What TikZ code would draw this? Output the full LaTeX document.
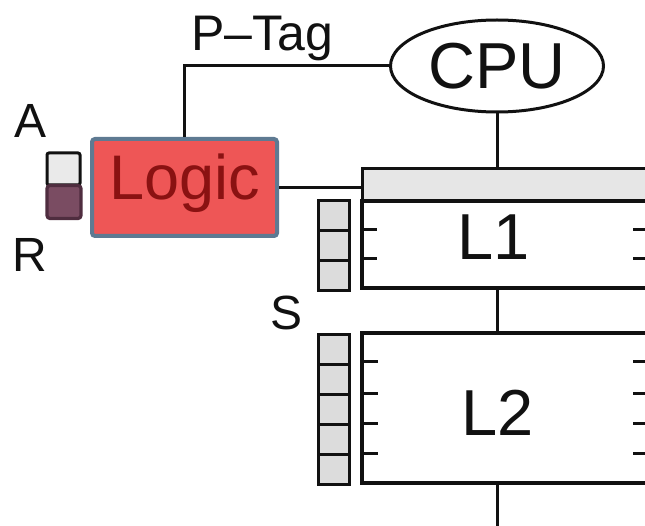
\documentclass[tikz,border=0pt]{standalone}
\usepackage{fontspec}
\setmainfont{Liberation Sans}
\usepackage{tikz}
\usetikzlibrary{positioning,calc,shapes.geometric}
\definecolor{Ink}{HTML}{111111}
\definecolor{Stipple}{HTML}{DCDCDC}
\definecolor{LogicRed}{HTML}{EE5656}
\definecolor{LogicEdge}{HTML}{5E7A92}
\definecolor{LogicText}{HTML}{8A1212}
\definecolor{RegPurple}{HTML}{7A4C62}
\definecolor{RegEdge}{HTML}{4F2D3F}
\tikzset{
  wire/.style={draw=Ink,line width=3pt},
  cacheBox/.style={draw=Ink,line width=3.2pt,fill=white,rectangle,inner sep=0pt,outer sep=0pt,minimum width=300pt},
  tagBar/.style={cacheBox,fill=Stipple!70,line width=3pt},
  sBox/.style={draw=Ink,line width=3pt,fill=Stipple,inner sep=0pt,minimum width=31pt,minimum height=30pt},
  bigText/.style={font=\fontsize{65}{70}\selectfont,text=Ink,inner sep=0pt},
  midText/.style={font=\fontsize{50}{56}\selectfont,text=Ink,inner sep=0pt},
  tick/.style={draw=Ink,line width=3pt}
}
\begin{document}
\begin{tikzpicture}[x=1pt,y=-1pt]
\path[use as bounding box] (0,0) rectangle (645,526);
\clip (0,0) rectangle (645,526);
% processor and logic
\node[draw=Ink,line width=3pt,ellipse,inner sep=0pt,minimum width=213pt,minimum height=92pt] (cpu) at (497,66) {};
\node[bigText] (cpuLabel) at (cpu.center) {CPU};
\node[draw=LogicEdge,line width=4pt,fill=LogicRed,rounded corners=3pt,inner sep=0pt,minimum width=185pt,minimum height=97pt] (logic) at (184.5,187.5) {};
\node[font=\fontsize{63}{68}\selectfont,text=LogicText,inner sep=0pt,anchor=base] (logicLabel) at (184.5,200) {Logic};
\node[midText,anchor=base] (ptag) at (262,51) {P–Tag};
% A and R bits
\node[draw=Ink,line width=3pt,fill=Stipple!60,rounded corners=2pt,inner sep=0pt,minimum width=33pt,minimum height=32pt] (aBit) at (63.5,169) {};
\node[draw=RegEdge,line width=3.2pt,fill=RegPurple,rounded corners=3pt,inner sep=0pt,minimum width=34pt,minimum height=33pt] (rBit) at (64,202) {};
\node[midText,font=\fontsize{48}{52}\selectfont] (aLabel) at (31,121) {A};
\node[midText,font=\fontsize{48}{52}\selectfont] (rLabel) at (30,255) {R};
\node[midText,font=\fontsize{48}{52}\selectfont] (sLabel) at (287,313) {S};
% L1
\node[cacheBox,anchor=north west,minimum height=87pt] (l1) at (362,201) {};
\node[tagBar,anchor=south west,minimum height=32pt] (l1tag) at (l1.north west) {};
\node[bigText] (l1Label) at (494,237) {L1};
\foreach \y in {230,259} {
  \draw[tick] (362,\y) -- ++(15,0);
  \draw[tick] (633,\y) -- ++(15,0);
}
\foreach \i in {0,1,2}
  \node[sBox,anchor=north west] (s1\i) at (317,{199+30*\i}) {};
% L2
\node[cacheBox,anchor=north west,minimum height=150pt] (l2) at (362,333) {};
\node[bigText] (l2Label) at (498,413) {L2};
\foreach \y in {362,393,423,453} {
  \draw[tick] (362,\y) -- ++(16,0);
  \draw[tick] (633,\y) -- ++(15,0);
}
\foreach \i in {0,...,4}
  \node[sBox,anchor=north west] (s2\i) at (317,{333+30*\i}) {};
% wires
\coordinate (busEnd) at (497,530);
\draw[wire] (cpu.west) -| (logic.north);
\draw[wire] (cpu.south) -- (cpu.south |- l1tag.north);
\draw[wire] (logic.east) -- (logic.east -| l1tag.west);
\draw[wire] (cpu.south |- l1.south) -- (cpu.south |- l2.north);
\draw[wire] (cpu.south |- l2.south) -- (busEnd);
\end{tikzpicture}
\end{document}
